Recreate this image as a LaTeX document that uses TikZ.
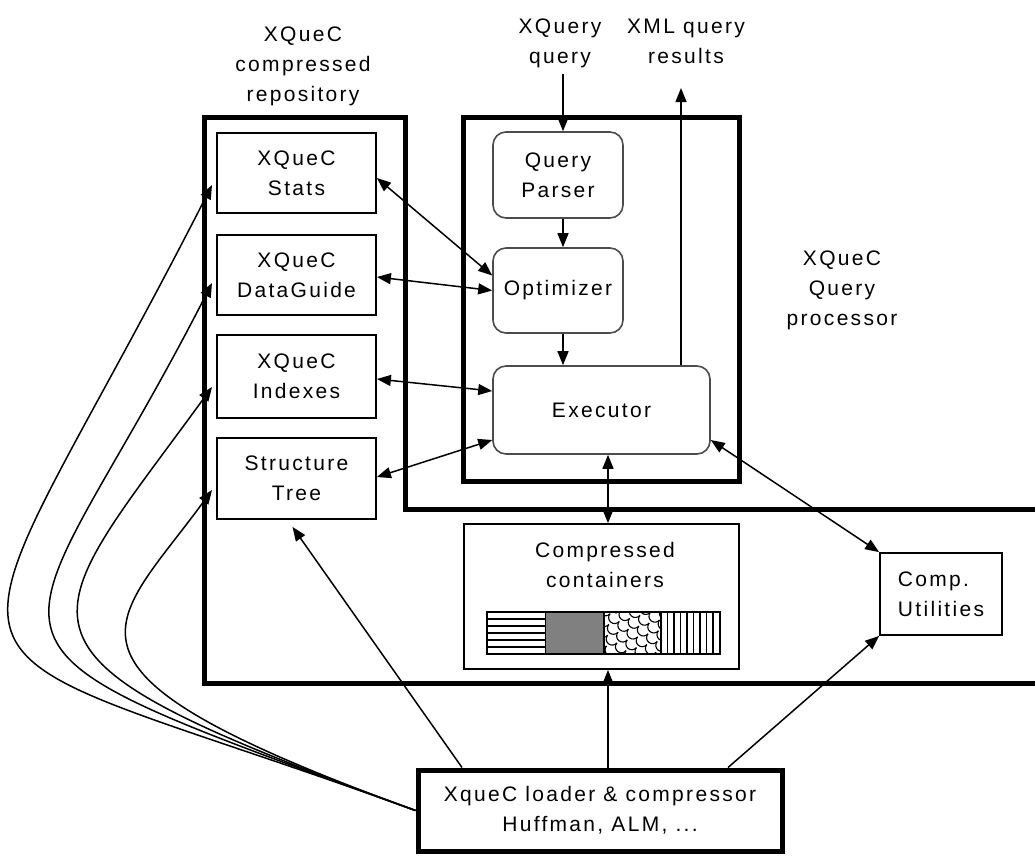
\documentclass[tikz,border=0pt]{standalone}
\usepackage{fontspec}
\setmainfont{Liberation Sans}[LetterSpace=11]
\usetikzlibrary{arrows.meta}
\begin{document}
\begin{tikzpicture}[x=1pt,y=-1pt,
  txt/.style={font=\fontsize{21}{30}\selectfont},
  lab/.style={txt, align=center, inner sep=0pt},
  sqbox/.style={draw, line width=1.8pt, inner sep=0pt, align=center, txt},
  rbox/.style={draw=black!70, line width=1.6pt, rounded corners=13pt, inner sep=0pt, align=center, txt},
  heavy/.style={line width=5pt},
  onehead/.style={-{Triangle[length=14pt,width=11pt]}, line width=1.5pt},
  twohead/.style={{Triangle[length=14pt,width=11pt]}-{Triangle[length=14pt,width=11pt]}, line width=1.5pt},
]
\useasboundingbox (0,0) rectangle (1035,855);

% outer frames: repository (L-shaped, running off to the right) and query processor
\draw[heavy] (1045,509) -- (405,509) -- (405,117) -- (204,117) -- (204,683) -- (1045,683);
\draw[heavy] (463,117) rectangle (739,481);

% free-standing labels
\node[lab] (replab) at (303,66.5) {XQueC\\compressed\\repository};
\node[lab] (xqlab) at (560,43.5) {XQuery\\query};
\node[lab] (reslab) at (686,41) {XML query\\results};
\node[lab] (qplab) at (842,290.5) {XQueC\\Query\\processor};

% repository components
\node[sqbox, minimum width=159pt, minimum height=80pt] (stats) at (296.5,173) {XQueC\\Stats};
\node[sqbox, minimum width=159pt, minimum height=80pt] (dg) at (296.5,275) {XQueC\\DataGuide};
\node[sqbox, minimum width=159pt, minimum height=83pt] (idx) at (296.5,376.5) {XQueC\\Indexes};
\node[sqbox, minimum width=159pt, minimum height=81pt] (st) at (296.5,478.5) {Structure\\Tree};

% query processor components
\node[rbox, minimum width=130pt, minimum height=86pt] (qp) at (558,175) {Query\\Parser};
\node[rbox, minimum width=130pt, minimum height=85pt] (opt) at (558,290.5) {Optimizer};
\node[rbox, minimum width=217pt, minimum height=88pt] (exec) at (601.5,410) {Executor};

% compressed containers with the four-pattern strip
\node[sqbox, minimum width=275pt, minimum height=145pt] (comp) at (601.5,596.5) {};
\node[lab] (complab) at (605,565) {Compressed\\containers};
\foreach \k in {1,...,5} \draw[line width=1.2pt] (487,612+7*\k) -- (545.5,612+7*\k);
\fill[black!50] (545.5,612) rectangle (604,654);
\begin{scope}
  \clip (604,612) rectangle (662,654);
  \begin{scope}[shift={(633,633)}, rotate=-40]
    \foreach \i in {-5,...,5} \foreach \j in {-5,...,5} {
      \draw[line width=1.1pt] ({12*\i+6*mod(abs(\j),2)-6},{9*\j}) arc[start angle=180,end angle=360,radius=6pt];
    }
  \end{scope}
\end{scope}
\foreach \k in {1,...,8} \draw[line width=1.2pt] (661+6.5*\k,612) -- (661+6.5*\k,654);
\draw[line width=1.8pt] (545.5,612) -- (545.5,654) (604,612) -- (604,654) (661,612) -- (661,654);
\draw[line width=1.8pt] (487,612) rectangle (720,654);

% utilities and loader
\node[sqbox, align=left, minimum width=122pt, minimum height=82pt] (util) at (941,594) {Comp.\\Utilities};
\node[sqbox, line width=5pt, minimum width=364pt, minimum height=81pt] (loader) at (600,810.5) {XqueC loader \& compressor\\Huffman, ALM, ...};

% query input and result output
\coordinate (qin) at (563,74);
\coordinate (qout) at (681,88);
\draw[onehead] (qin) -- (qp.north -| qin);
\draw[onehead] (exec.north -| qout) -- (qout);

% pipeline inside the query processor
\draw[onehead] (qp.south -| qin) -- (opt.north -| qin);
\draw[onehead] (opt.south -| qin) -- (exec.north -| qin);

% repository <-> processor
\draw[twohead] ([yshift=-5pt]stats.east) -- ([yshift=15pt]opt.west);
\draw[twohead] ([yshift=-2pt]dg.east) -- (opt.west);
\draw[twohead] ([yshift=-2.5pt]idx.east) -- ([yshift=19pt]exec.west);
\draw[twohead] ([yshift=1.5pt]st.east) -- ([yshift=-30pt]exec.west);
\draw[twohead] ([xshift=6.5pt]exec.south) -- ([xshift=6.5pt]comp.north);
\draw[twohead] ([yshift=-30pt]exec.east) -- (util.north west);

% loader outputs
\draw[onehead] ([xshift=-138pt]loader.north) -- ([xshift=-4pt,yshift=-7pt]st.south);
\draw[onehead] ([xshift=8pt]loader.north) -- ([xshift=6.5pt]comp.south);
\draw[onehead] ([xshift=128pt]loader.north) -- (util.south west);

% loader feeds every repository component
\coordinate (c1) at (212,185);
\coordinate (c2) at (212,283);
\coordinate (c3) at (212,387);
\coordinate (c4) at (212,490);
\draw[onehead] (loader.west) .. controls +(160:564pt) and +(243:608pt) .. (c1);
\draw[onehead] (loader.west) .. controls +(160:532pt) and +(243:440pt) .. (c2);
\draw[onehead] (loader.west) .. controls +(160:466pt) and +(234:306pt) .. (c3);
\draw[onehead] (loader.west) .. controls +(160:416pt) and +(234:171pt) .. (c4);
\end{tikzpicture}
\end{document}
